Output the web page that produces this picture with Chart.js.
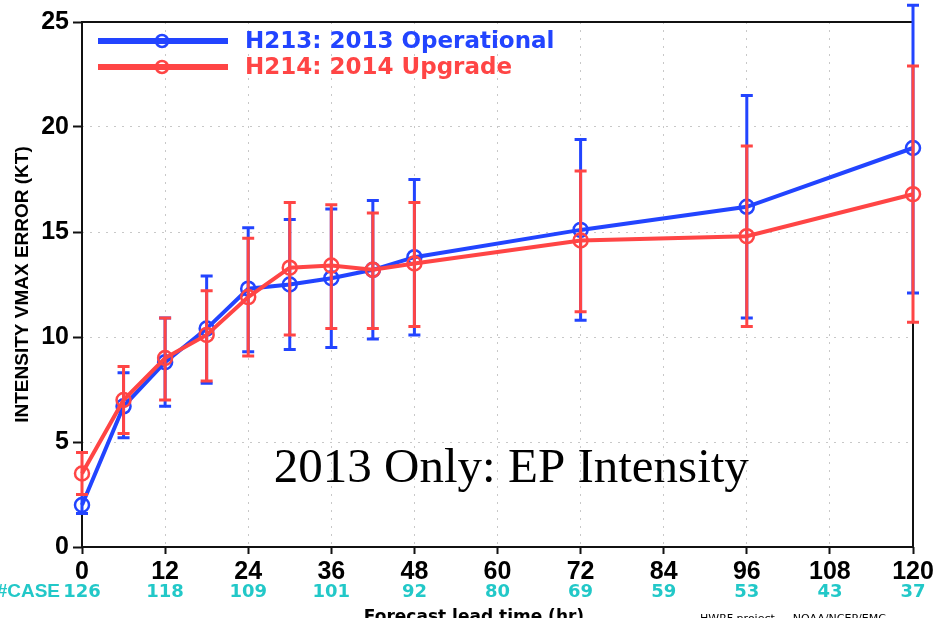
<!DOCTYPE html>
<html lang="en">
<head>
    <meta charset="UTF-8">
    <title>EP Intensity Error</title>
    <script src="https://cdn.jsdelivr.net/npm/chart.js"></script>
    <style>
        body { margin: 0; background: #fff; }
        #wrap { width: 951px; height: 618px; position: relative; }
    </style>
</head>
<body>
    <div id="wrap"><canvas id="errChart"></canvas></div>
    <script>
        // forecast hours and errors
        const hours = [0, 6, 12, 18, 24, 30, 36, 42, 48, 72, 96, 120];
        const h213 = [2.0, 6.7, 8.8, 10.4, 12.3, 12.5, 12.8, 13.2, 13.8, 15.1, 16.2, 19.0];
        const h213Lo = [1.6, 5.2, 6.7, 7.8, 9.3, 9.4, 9.5, 9.9, 10.1, 10.8, 10.9, 12.1];
        const h213Hi = [2.5, 8.3, 10.9, 12.9, 15.2, 15.6, 16.1, 16.5, 17.5, 19.4, 21.5, 25.8];
        const h214 = [3.5, 7.0, 9.0, 10.1, 11.9, 13.3, 13.4, 13.2, 13.5, 14.6, 14.8, 16.8];
        const h214Lo = [2.5, 5.4, 7.0, 7.9, 9.1, 10.1, 10.4, 10.4, 10.5, 11.2, 10.5, 10.7];
        const h214Hi = [4.5, 8.6, 10.9, 12.2, 14.7, 16.4, 16.3, 15.9, 16.4, 17.9, 19.1, 22.9];

        const caseHours = [0, 12, 24, 36, 48, 60, 72, 84, 96, 108, 120];
        const caseCounts = [126, 118, 109, 101, 92, 80, 69, 59, 53, 43, 37];

        const BLUE = '#2244ff';
        const RED = '#ff4545';
        const CYAN = '#22c8c8';

        const toXY = (vals) => vals.map((v, i) => ({ x: hours[i], y: v }));

        // vertical error bars, drawn right after their own dataset
        const errorBars = {
            id: 'errorBars',
            afterDatasetDraw(chart, args) {
                const ds = chart.data.datasets[args.index];
                if (!ds.errLo) return;
                const { ctx, scales: { x, y } } = chart;
                ctx.save();
                ctx.strokeStyle = ds.borderColor;
                ctx.lineWidth = 3;
                ds.data.forEach((p, i) => {
                    const px = x.getPixelForValue(p.x);
                    const lo = y.getPixelForValue(ds.errLo[i]);
                    const hi = y.getPixelForValue(ds.errHi[i]);
                    ctx.beginPath();
                    ctx.moveTo(px, lo); ctx.lineTo(px, hi);
                    ctx.moveTo(px - 6, lo); ctx.lineTo(px + 6, lo);
                    ctx.moveTo(px - 6, hi); ctx.lineTo(px + 6, hi);
                    ctx.stroke();
                });
                ctx.restore();
            }
        };

        // frame, legend, case counts and the other labels
        const decorations = {
            id: 'decorations',
            beforeDatasetsDraw(chart) {
                const { ctx, chartArea: a } = chart;
                ctx.save();
                ctx.strokeStyle = '#111';
                ctx.lineWidth = 2;
                ctx.strokeRect(a.left, a.top, a.right - a.left, a.bottom - a.top);
                ctx.restore();
            },
            afterDraw(chart) {
                const { ctx, chartArea: a, scales: { x, y } } = chart;
                ctx.save();

                // legend
                const items = [
                    { label: 'H213: 2013 Operational', color: BLUE, y: a.top + 19 },
                    { label: 'H214: 2014 Upgrade', color: RED, y: a.top + 45 }
                ];
                items.forEach(it => {
                    ctx.strokeStyle = it.color;
                    ctx.lineWidth = 6;
                    ctx.beginPath();
                    ctx.moveTo(a.left + 16, it.y);
                    ctx.lineTo(a.left + 146, it.y);
                    ctx.stroke();
                    ctx.lineWidth = 2.5;
                    ctx.beginPath();
                    ctx.arc(a.left + 80, it.y, 6, 0, Math.PI * 2);
                    ctx.stroke();
                    ctx.fillStyle = it.color;
                    ctx.font = 'bold 23px "DejaVu Sans"';
                    ctx.textAlign = 'left';
                    ctx.textBaseline = 'middle';
                    ctx.fillText(it.label, a.left + 163, it.y + 1);
                });

                // case counts under the hour labels
                ctx.fillStyle = CYAN;
                ctx.font = 'bold 18px "DejaVu Sans"';
                ctx.textAlign = 'center';
                ctx.textBaseline = 'middle';
                caseHours.forEach((h, i) => {
                    ctx.fillText(String(caseCounts[i]), x.getPixelForValue(h), 592);
                });
                ctx.textAlign = 'right';
                ctx.font = 'bold 19px "Liberation Sans Narrow", "Liberation Sans"';
                ctx.fillText('#CASE', 60, 592);

                // y axis title
                ctx.save();
                ctx.translate(23, (a.top + a.bottom) / 2);
                ctx.rotate(-Math.PI / 2);
                ctx.fillStyle = '#000';
                ctx.textAlign = 'center';
                ctx.font = 'bold 19px "Liberation Sans"';
                ctx.fillText('INTENSITY VMAX ERROR (KT)', 0, 0);
                ctx.restore();

                // x axis title (cut by the bottom edge) and credit
                ctx.fillStyle = '#000';
                ctx.textAlign = 'center';
                ctx.textBaseline = 'alphabetic';
                ctx.font = 'bold 17px "DejaVu Sans"';
                ctx.fillText('Forecast lead time (hr)', 474, 622);
                ctx.textAlign = 'left';
                ctx.font = '11px "DejaVu Sans"';
                ctx.fillText('HWRF project \u2014 NOAA/NCEP/EMC', 700, 622);

                // annotation
                ctx.fillStyle = '#000';
                ctx.textAlign = 'center';
                ctx.font = '49px "Liberation Serif"';
                ctx.fillText('2013 Only: EP Intensity', x.getPixelForValue(62), y.getPixelForValue(3.1));
                ctx.restore();
            }
        };

        const ctx = document.getElementById('errChart').getContext('2d');
        const errChart = new Chart(ctx, {
            type: 'line',
            data: {
                datasets: [
                    {
                        label: 'H213: 2013 Operational',
                        data: toXY(h213), errLo: h213Lo, errHi: h213Hi,
                        order: 1,
                        borderColor: BLUE, borderWidth: 4,
                        pointRadius: 7, pointBorderWidth: 2.5,
                        pointBackgroundColor: 'rgba(0,0,0,0)', pointBorderColor: BLUE,
                        tension: 0, clip: false
                    },
                    {
                        label: 'H214: 2014 Upgrade',
                        data: toXY(h214), errLo: h214Lo, errHi: h214Hi,
                        order: 0,
                        borderColor: RED, borderWidth: 4,
                        pointRadius: 7, pointBorderWidth: 2.5,
                        pointBackgroundColor: 'rgba(0,0,0,0)', pointBorderColor: RED,
                        tension: 0, clip: false
                    }
                ]
            },
            options: {
                responsive: true,
                maintainAspectRatio: false,
                animation: false,
                layout: { padding: { left: 0, top: 22, right: 38, bottom: 0 } },
                plugins: {
                    legend: { display: false },
                    tooltip: { enabled: false }
                },
                scales: {
                    x: {
                        type: 'linear', min: 0, max: 120,
                        afterFit: s => { s.height = 71; },
                        ticks: {
                            stepSize: 12, color: '#000', padding: 3, maxRotation: 0,
                            font: { family: '"Liberation Sans Narrow", "Liberation Sans"', size: 25, weight: 'bold' }
                        },
                        grid: { color: '#c8c8c8', lineWidth: 1, tickColor: '#111', tickLength: 7, tickWidth: 2 },
                        border: { display: false, dash: [2, 6] }
                    },
                    y: {
                        min: 0, max: 25,
                        afterFit: s => { s.width = 82; },
                        ticks: {
                            stepSize: 5, color: '#000', padding: 4,
                            font: { family: '"Liberation Sans Narrow", "Liberation Sans"', size: 25, weight: 'bold' }
                        },
                        grid: { color: '#c8c8c8', lineWidth: 1, tickColor: '#111', tickLength: 9, tickWidth: 2 },
                        border: { display: false, dash: [2, 6] }
                    }
                }
            },
            plugins: [errorBars, decorations]
        });
    </script>
</body>
</html>
